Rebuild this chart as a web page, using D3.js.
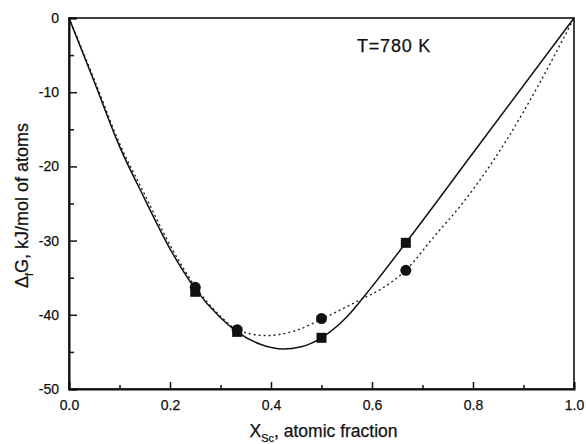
<!DOCTYPE html>
<html lang="en">
  <head>
    <meta charset="utf-8" />
    <style>
      body { margin: 0; background: #fff; }
      svg text { font-family: "Liberation Sans", Arial, sans-serif; fill: #111; stroke: #111; stroke-width: 0.25px; }
    </style>
  </head>
  <body>
    <svg id="chart" width="586" height="444"></svg>
    <script src="https://cdn.jsdelivr.net/npm/d3@7"></script>
    <script>
      // measured points (x = atomic fraction Sc, y = kJ/mol of atoms)
      const squareX = [0.25, 0.333, 0.5, 0.667];
      const squareY = [-36.9, -42.3, -43.1, -30.3];
      const circleX = [0.25, 0.333, 0.5, 0.667];
      const circleY = [-36.3, -42.0, -40.5, -34.0];

      // solid model curve
      const solidX = [0, 0.05, 0.1, 0.15, 0.2, 0.25, 0.3, 0.333, 0.38, 0.424, 0.46, 0.5, 0.55, 0.6, 0.667, 0.8, 1.0];
      const solidY = [0, -8.6, -17.3, -24.4, -31.1, -36.5, -40.4, -42.3, -44.0, -44.6, -44.3, -43.1, -40.3, -36.2, -30.3, -18.2, 0];

      // dotted model curve
      const dottedX = [0, 0.05, 0.1, 0.15, 0.2, 0.25, 0.3, 0.333, 0.39, 0.45, 0.5, 0.576, 0.616, 0.667, 0.72, 0.78, 0.867, 0.93, 1.0];
      const dottedY = [0, -8.3, -16.9, -23.8, -30.6, -36.2, -40.2, -42.0, -42.8, -42.1, -40.6, -38.0, -36.6, -34.0, -29.7, -24.9, -16.4, -9.0, 0];

      const xTicks = [0.0, 0.2, 0.4, 0.6, 0.8, 1.0];
      const xMinor = [0.1, 0.3, 0.5, 0.7, 0.9];
      const yTicks = [0, -10, -20, -30, -40, -50];
      const yMinor = [-5, -15, -25, -35, -45];

      const margin = { left: 69, right: 12, top: 18, bottom: 55 };
      const width = 586, height = 444;
      const svg = d3.select("#chart");

      const x = d3.scaleLinear().domain([0, 1]).range([margin.left, width - margin.right]);
      const y = d3.scaleLinear().domain([-50, 0]).range([height - margin.bottom, margin.top]);

      // frame
      svg.append("rect")
        .attr("x", x(0)).attr("y", y(0))
        .attr("width", x(1) - x(0)).attr("height", y(-50) - y(0))
        .attr("fill", "none").attr("stroke", "#111").attr("stroke-width", 1.6);

      // axes, ticks pointing inside
      svg.append("g").attr("transform", `translate(0,${y(-50)})`)
        .call(d3.axisBottom(x).tickValues(xTicks).tickFormat(d3.format(".1f")).tickSize(-7).tickPadding(11));
      svg.append("g").attr("transform", `translate(0,${y(-50)})`)
        .call(d3.axisBottom(x).tickValues(xMinor).tickFormat("").tickSize(-4))
        .call(g => g.select(".domain").remove());

      svg.append("g").attr("transform", `translate(${x(0)},0)`)
        .call(d3.axisLeft(y).tickValues(yTicks).tickFormat(d => String(d)).tickSize(-8).tickPadding(10));
      svg.append("g").attr("transform", `translate(${x(0)},0)`)
        .call(d3.axisLeft(y).tickValues(yMinor).tickFormat("").tickSize(-5))
        .call(g => g.select(".domain").remove());

      svg.selectAll(".domain").attr("stroke", "#111").attr("stroke-width", 2);
      svg.selectAll(".tick line").attr("stroke", "#111").attr("stroke-width", 1.5);
      svg.selectAll(".tick text")
        .style("font-family", "'Liberation Sans', Arial, sans-serif")
        .style("font-size", "14px").attr("fill", "#111");

      // curves
      const line = d3.line().x(d => x(d[0])).y(d => y(d[1])).curve(d3.curveMonotoneX);

      svg.append("path")
        .datum(dottedX.map((v, i) => [v, dottedY[i]]))
        .attr("d", line)
        .attr("fill", "none").attr("stroke", "#222").attr("stroke-width", 1.4)
        .attr("stroke-dasharray", "2,3");

      svg.append("path")
        .datum(solidX.map((v, i) => [v, solidY[i]]))
        .attr("d", line)
        .attr("fill", "none").attr("stroke", "#111").attr("stroke-width", 1.5);

      // markers
      svg.append("g").selectAll("rect")
        .data(squareX.map((v, i) => [v, squareY[i]]))
        .join("rect")
        .attr("x", d => x(d[0]) - 5).attr("y", d => y(d[1]) - 5)
        .attr("width", 10).attr("height", 10).attr("fill", "#111");

      svg.append("g").selectAll("circle")
        .data(circleX.map((v, i) => [v, circleY[i]]))
        .join("circle")
        .attr("cx", d => x(d[0])).attr("cy", d => y(d[1]))
        .attr("r", 5.5).attr("fill", "#111");

      // labels
      svg.append("text")
        .attr("x", 357).attr("y", 52)
        .style("font-size", "18px").style("letter-spacing", "0.8px")
        .text("T=780 K");

      const xl = svg.append("text")
        .attr("x", x(0.5) + 2).attr("y", 437)
        .attr("text-anchor", "middle")
        .style("font-size", "17.5px");
      xl.append("tspan").text("X");
      xl.append("tspan").attr("dy", 5).style("font-size", "11px").text("Sc");
      xl.append("tspan").attr("dy", -5).text(", atomic fraction");

      const yl = svg.append("text")
        .attr("transform", `translate(28,${y(-25) + 2}) rotate(-90)`)
        .attr("text-anchor", "middle")
        .style("font-size", "18px");
      yl.append("tspan").text("Δ");
      yl.append("tspan").attr("dy", 5).style("font-size", "11px").text("f");
      yl.append("tspan").attr("dy", -5).text("G, kJ/mol of atoms");
    </script>
  </body>
</html>
